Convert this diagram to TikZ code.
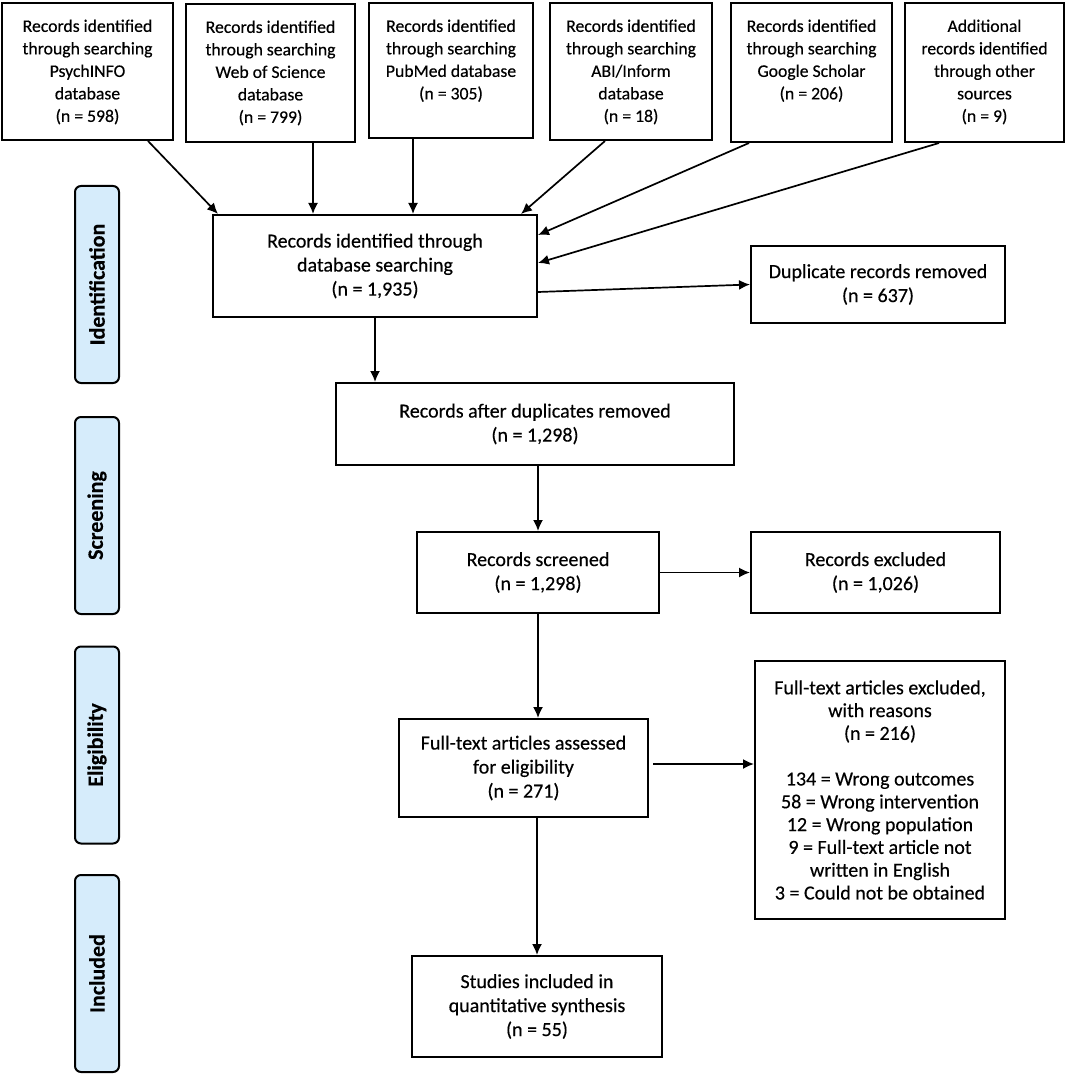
\documentclass[tikz,border=0pt]{standalone}
\usepackage{fontspec}
\setmainfont{Carlito}[FakeBold=0.35]
\usepackage{tikz}
\usetikzlibrary{arrows.meta}
\definecolor{stageblue}{RGB}{214,236,251}

\tikzset{
  box/.style={draw, line width=1pt, inner sep=0pt, align=center, font=\fontsize{10}{12}\selectfont},
  srcbox/.style={draw, line width=1pt, inner sep=0pt, font=\fontsize{8.85}{11.25}\selectfont},
  stage/.style={draw, line width=1pt, rounded corners=3pt, fill=stageblue, rotate=90,
    minimum width=98.5pt, minimum height=22pt, inner sep=0pt, font=\fontsize{11}{12}\selectfont\bfseries},
  arr/.style={line width=0.85pt, ->, >={Latex[length=5.5pt,width=5pt]}},
}
\newcommand{\srctext}[2]{\parbox[c][#1][t]{78pt}{\centering\vspace*{8.3pt}#2}}

\begin{document}
\begin{tikzpicture}[x=0.5pt, y=-0.5pt]
    \useasboundingbox (0,0) rectangle (1074,1075);

    % search sources
    \node[srcbox, minimum width=85.5pt, minimum height=68.5pt] (psych) at (87.5,71.5)
        {\srctext{68.5pt}{Records identified\\through searching\\PsychINFO\\database\\(n = 598)}};
    \node[srcbox, minimum width=84.5pt, minimum height=69pt] (wos) at (270.5,73)
        {\srctext{69pt}{Records identified\\through searching\\Web of Science\\database\\(n = 799)}};
    \node[srcbox, minimum width=82pt, minimum height=67.5pt] (pubmed) at (451,70.5)
        {\srctext{67.5pt}{Records identified\\through searching\\PubMed database\\(n = 305)}};
    \node[srcbox, minimum width=81pt, minimum height=68.5pt] (abi) at (631,71.5)
        {\srctext{68.5pt}{Records identified\\through searching\\ABI/Inform\\database\\(n = 18)}};
    \node[srcbox, minimum width=80.5pt, minimum height=69.5pt] (google) at (811.5,72.5)
        {\srctext{69.5pt}{Records identified\\through searching\\Google Scholar\\(n = 206)}};
    \node[srcbox, minimum width=79.5pt, minimum height=69.5pt] (other) at (984.5,72.5)
        {\srctext{69.5pt}{Additional\\records identified\\through other\\sources\\(n = 9)}};

    % flow boxes
    \node[box, minimum width=162pt, minimum height=51pt] (dbsearch) at (375,266)
        {Records identified through\\database searching\\(n = 1,935)};
    \node[box, minimum width=127pt, minimum height=38.5pt] (dup) at (878,284.5)
        {Duplicate records removed\\(n = 637)};
    \node[box, minimum width=199pt, minimum height=41pt] (after) at (535,424)
        {Records after duplicates removed\\(n = 1,298)};
    \node[box, minimum width=121pt, minimum height=40.5pt] (screened) at (538,572.5)
        {Records screened\\(n = 1,298)};
    \node[box, minimum width=124.5pt, minimum height=40.5pt] (excluded) at (875.5,572.5)
        {Records excluded\\(n = 1,026)};
    \node[box, minimum width=124.5pt, minimum height=49pt] (assessed) at (523.5,768)
        {Full-text articles assessed\\for eligibility\\(n = 271)};
    \node[box, minimum width=125pt, minimum height=129pt, font=\fontsize{10}{11.4}\selectfont] (reasons) at (880,790)
        {Full-text articles excluded,\\with reasons\\(n = 216)\\[11.4pt]134 = Wrong outcomes\\58 = Wrong intervention\\12 = Wrong population\\9 = Full-text article not\\written in English\\3 = Could not be obtained};
    \node[box, minimum width=125pt, minimum height=50.5pt] (studies) at (537,1006.5)
        {Studies included in\\quantitative synthesis\\(n = 55)};

    % stage labels
    \node[stage] (ident) at (97,284.5) {Identification};
    \node[stage] (screen) at (97,515.5) {Screening};
    \node[stage] (elig) at (97,745) {Eligibility};
    \node[stage] (incl) at (97,973.5) {Included};

    % arrows
    \draw[arr] ([xshift=30.25pt]psych.south) -- ([xshift=3pt]dbsearch.north west);
    \draw[arr] ([xshift=21.25pt]wos.south) coordinate (w) -- (w |- dbsearch.north);
    \draw[arr] ([xshift=-19pt]pubmed.south) coordinate (p) -- (p |- dbsearch.north);
    \draw[arr] ([xshift=-13pt]abi.south) -- ([xshift=-8.5pt]dbsearch.north east);
    \draw[arr] ([xshift=-31.25pt]google.south) -- ([yshift=15.5pt]dbsearch.east);
    \draw[arr] ([xshift=-22.75pt]other.south) -- ([yshift=1.5pt]dbsearch.east);
    \draw[arr] ([yshift=-13pt]dbsearch.east) -- (dup.west);
    \draw[arr] (dbsearch.south) -- (dbsearch.south |- after.north);
    \draw[arr] (screened.north |- after.south) -- (screened.north);
    \draw[arr] (screened.east) -- (excluded.west);
    \draw[arr] (screened.south) -- (screened.south |- assessed.north);
    \draw[arr] ([xshift=2pt,yshift=2pt]assessed.east) coordinate (a) -- (a -| reasons.west);
    \draw[arr] (studies.north |- assessed.south) -- (studies.north);
\end{tikzpicture}
\end{document}
